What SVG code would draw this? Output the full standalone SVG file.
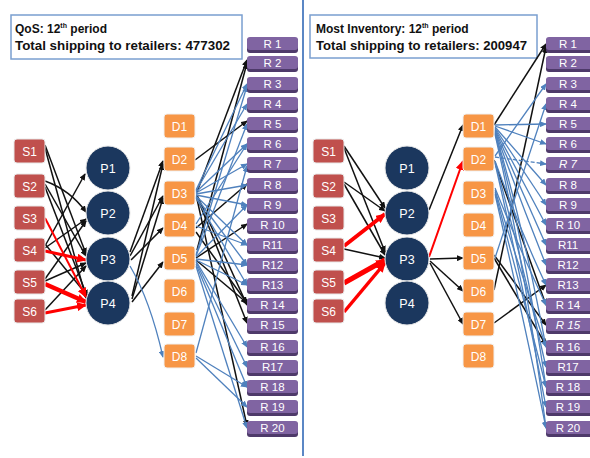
<svg xmlns="http://www.w3.org/2000/svg" width="590" height="458" viewBox="0 0 590 458">
<defs>
<style>
.hdr{fill:#fff;stroke:#7a9fd0;stroke-width:1.5}
.ht{font-family:"Liberation Sans",Arial,sans-serif;font-weight:bold;font-size:12px;fill:#111}
.s rect{fill:#c0504d;stroke:#e8e8e8;stroke-width:1}
.p circle{fill:#1b375e;stroke:#e8e8e8;stroke-width:1}
.d rect{fill:#f79646;stroke:#f0f0f0;stroke-width:1}
.r .sh{fill:#4e3a6a}
.r .bx{fill:#8064a2}
.nt{font-family:"Liberation Sans",Arial,sans-serif;font-size:12px;fill:#fff;text-anchor:middle}
.rt{font-family:"Liberation Sans",Arial,sans-serif;font-size:11.5px;fill:#fff;text-anchor:middle}
.pt{font-family:"Liberation Sans",Arial,sans-serif;font-size:12.5px;fill:#fff;text-anchor:middle}
.k{stroke:#111;stroke-width:1.5;fill:none;marker-end:url(#ak)}
.b{stroke:#4f81bd;stroke-width:1.3;fill:none;marker-end:url(#ab)}
.rd{stroke:#f00;fill:none;marker-end:url(#ar)}
</style>
<marker id="ak" markerUnits="userSpaceOnUse" markerWidth="7" markerHeight="6" refX="6" refY="3" orient="auto"><path d="M0,0 L7,3 L0,6 z" fill="#111"/></marker>
<marker id="ab" markerUnits="userSpaceOnUse" markerWidth="7" markerHeight="6" refX="6" refY="3" orient="auto"><path d="M0,0 L7,3 L0,6 z" fill="#4f81bd"/></marker>
<marker id="ar" markerUnits="userSpaceOnUse" markerWidth="10" markerHeight="9" refX="9" refY="4.5" orient="auto"><path d="M0,0 L10,4.5 L0,9 z" fill="#f00"/></marker>
</defs>
<rect width="590" height="458" fill="#fff"/>
<line x1="303" y1="0" x2="303" y2="456" stroke="#5b87c5" stroke-width="2"/>

<g id="header-left">
<rect class="hdr" x="11" y="15" width="231" height="44"/>
<text class="ht" x="15" y="33">QoS: 12<tspan font-size="7" dy="-5">th</tspan><tspan dy="5"> period</tspan></text>
<text class="ht" x="15" y="50" textLength="215" lengthAdjust="spacingAndGlyphs">Total shipping to retailers: 477302</text>
</g>
<g id="header-right">
<rect class="hdr" x="310" y="15" width="227" height="43"/>
<text class="ht" x="316" y="33">Most Inventory: 12<tspan font-size="7" dy="-5">th</tspan><tspan dy="5"> period</tspan></text>
<text class="ht" x="316" y="50" textLength="211" lengthAdjust="spacingAndGlyphs">Total shipping to retailers: 200947</text>
</g>

<g id="connectors">
<!-- left S->P -->
<line class="k" x1="45" y1="145" x2="86" y2="254"/>
<line class="k" x1="45" y1="148" x2="86" y2="298"/>
<path class="k" d="M45,181 Q70,190 86,212"/>
<line class="k" x1="45" y1="184" x2="86" y2="256"/>
<line class="k" x1="45" y1="187" x2="87" y2="296"/>
<line class="k" x1="45" y1="246" x2="85" y2="174"/>
<line class="k" x1="45" y1="248" x2="86" y2="219"/>
<line class="k" x1="45" y1="279" x2="86" y2="221"/>
<line class="k" x1="45" y1="281" x2="86" y2="263"/>
<line class="k" x1="45" y1="310" x2="86" y2="266"/>
<line class="k" x1="45" y1="244" x2="86" y2="294"/>
<line class="rd" stroke-width="2" x1="45" y1="218" x2="86" y2="297"/>
<line class="rd" stroke-width="3" x1="45" y1="251" x2="86" y2="260"/>
<line class="rd" stroke-width="4.5" x1="45" y1="284" x2="86" y2="302"/>
<line class="rd" stroke-width="3" x1="45" y1="313" x2="86" y2="305"/>
<!-- left P->D -->
<line class="k" x1="130" y1="252" x2="163" y2="161"/>
<line class="k" x1="132" y1="296" x2="163" y2="164"/>
<line class="k" x1="130" y1="256" x2="163" y2="196"/>
<line class="k" x1="132" y1="299" x2="163" y2="198"/>
<line class="k" x1="131" y1="260" x2="163" y2="228"/>
<line class="k" x1="132" y1="302" x2="163" y2="262"/>
<path class="b" d="M130,266 Q150,300 163,357"/>
<!-- left D->R black -->
<line class="k" x1="195" y1="160" x2="247" y2="121"/>
<line class="k" x1="197" y1="192" x2="247" y2="60"/>
<line class="k" x1="197" y1="195" x2="247" y2="305"/>
<line class="k" x1="197" y1="197" x2="247" y2="323"/>
<line class="k" x1="197" y1="199" x2="247" y2="426"/>
<line class="k" x1="196" y1="228" x2="247" y2="184"/>
<line class="k" x1="196" y1="258" x2="247" y2="224"/>
<line class="k" x1="196" y1="260" x2="247" y2="303"/>
<line class="k" x1="197" y1="250" x2="247" y2="63"/>
<line class="k" x1="196" y1="232" x2="247" y2="303"/>
<!-- left D->R blue -->
<line class="b" x1="196" y1="190" x2="247" y2="84"/>
<line class="b" x1="196" y1="191" x2="247" y2="104"/>
<line class="b" x1="196" y1="192" x2="247" y2="144"/>
<line class="b" x1="196" y1="193" x2="247" y2="164"/>
<line class="b" x1="196" y1="194" x2="247" y2="185"/>
<line class="b" x1="196" y1="195" x2="247" y2="205"/>
<line class="b" x1="196" y1="196" x2="247" y2="245"/>
<line class="b" x1="196" y1="197" x2="247" y2="265"/>
<line class="b" x1="196" y1="198" x2="247" y2="285"/>
<line class="b" x1="196" y1="224" x2="247" y2="144"/>
<line class="b" x1="196" y1="226" x2="247" y2="245"/>
<line class="b" x1="196" y1="255" x2="247" y2="86"/>
<line class="b" x1="196" y1="256" x2="247" y2="124"/>
<line class="b" x1="196" y1="257" x2="247" y2="205"/>
<line class="b" x1="196" y1="259" x2="247" y2="265"/>
<line class="b" x1="196" y1="260" x2="247" y2="285"/>
<line class="b" x1="196" y1="261" x2="247" y2="347"/>
<line class="b" x1="196" y1="262" x2="247" y2="367"/>
<line class="b" x1="196" y1="264" x2="247" y2="387"/>
<line class="b" x1="196" y1="266" x2="247" y2="428"/>
<line class="b" x1="196" y1="353" x2="247" y2="166"/>
<line class="b" x1="196" y1="356" x2="247" y2="387"/>
<line class="b" x1="196" y1="358" x2="247" y2="407"/>
<!-- right S->P -->
<line class="k" x1="344" y1="146" x2="385" y2="208"/>
<line class="k" x1="344" y1="148" x2="385" y2="252"/>
<line class="k" x1="344" y1="182" x2="385" y2="211"/>
<line class="k" x1="344" y1="184" x2="385" y2="255"/>
<line class="k" x1="344" y1="249" x2="385" y2="258"/>
<line class="rd" stroke-width="4" x1="344" y1="246" x2="385" y2="214"/>
<line class="rd" stroke-width="5" x1="344" y1="283" x2="385" y2="260"/>
<line class="rd" stroke-width="3.5" x1="344" y1="312" x2="385" y2="263"/>
<!-- right P->D -->
<line class="k" stroke-width="2" x1="429" y1="210" x2="463" y2="125"/>
<line class="rd" stroke-width="2" x1="429" y1="257" x2="463" y2="161"/>
<line class="k" stroke-width="2.5" x1="430" y1="259" x2="463" y2="258"/>
<line class="k" x1="430" y1="261" x2="463" y2="291"/>
<line class="k" x1="430" y1="263" x2="463" y2="324"/>
<!-- right D->R black -->
<line class="k" x1="494" y1="125" x2="546" y2="44"/>
<line class="k" stroke-width="2" x1="494" y1="160" x2="546" y2="305"/>
<line class="k" stroke-width="2.2" x1="494" y1="255" x2="546" y2="325"/>
<line class="k" x1="494" y1="258" x2="546" y2="345"/>
<line class="k" x1="494" y1="290" x2="546" y2="47"/>
<line class="k" x1="494" y1="323" x2="546" y2="285"/>
<!-- right D->R blue -->
<line class="b" x1="495" y1="125" x2="546" y2="124"/>
<line class="b" x1="495" y1="126" x2="546" y2="144"/>
<line class="b" x1="495" y1="127" x2="546" y2="185"/>
<line class="b" x1="495" y1="128" x2="546" y2="205"/>
<line class="b" x1="495" y1="129" x2="546" y2="225"/>
<line class="b" x1="495" y1="130" x2="546" y2="245"/>
<path class="b" d="M495,131 Q520,200 546,265"/>
<path class="b" d="M495,132 Q522,220 546,347"/>
<path class="b" d="M495,133 Q524,240 546,387"/>
<path class="b" d="M495,134 Q526,270 546,428"/>
<line class="b" stroke-dasharray="4,2" x1="495" y1="157" x2="546" y2="164"/>
<line class="b" x1="495" y1="156" x2="546" y2="84"/>
<path class="b" d="M495,161 Q520,230 546,285"/>
<path class="b" d="M495,162 Q522,260 546,367"/>
<path class="b" d="M495,163 Q524,290 546,407"/>
<path class="b" d="M495,188 Q520,250 546,305"/>
<path class="b" d="M495,190 Q520,270 546,347"/>
<path class="b" d="M495,192 Q524,300 546,387"/>
<path class="b" d="M495,194 Q526,330 546,428"/>
<line class="b" x1="495" y1="258" x2="546" y2="104"/>
</g>

<g id="S1-L" class="s"><rect x="14" y="139" width="31" height="24" rx="3"/><text class="nt" x="29.5" y="155.5">S1</text></g>
<g id="S2-L" class="s"><rect x="14" y="174" width="31" height="24" rx="3"/><text class="nt" x="29.5" y="190.5">S2</text></g>
<g id="S3-L" class="s"><rect x="14" y="206" width="31" height="24" rx="3"/><text class="nt" x="29.5" y="222.5">S3</text></g>
<g id="S4-L" class="s"><rect x="14" y="238" width="31" height="24" rx="3"/><text class="nt" x="29.5" y="254.5">S4</text></g>
<g id="S5-L" class="s"><rect x="14" y="270" width="31" height="24" rx="3"/><text class="nt" x="29.5" y="286.5">S5</text></g>
<g id="S6-L" class="s"><rect x="14" y="299" width="31" height="24" rx="3"/><text class="nt" x="29.5" y="315.5">S6</text></g>

<g id="P1-L" class="p"><circle cx="108" cy="168" r="22"/><text class="pt" x="108" y="172.5">P1</text></g>
<g id="P2-L" class="p"><circle cx="108" cy="213" r="22"/><text class="pt" x="108" y="217.5">P2</text></g>
<g id="P3-L" class="p"><circle cx="108" cy="259" r="22"/><text class="pt" x="108" y="263.5">P3</text></g>
<g id="P4-L" class="p"><circle cx="108" cy="303" r="22"/><text class="pt" x="108" y="307.5">P4</text></g>

<g id="D1-L" class="d"><rect x="164" y="114" width="31" height="24" rx="3"/><text class="nt" x="179.5" y="130.5">D1</text></g>
<g id="D2-L" class="d"><rect x="164" y="147" width="31" height="24" rx="3"/><text class="nt" x="179.5" y="163.5">D2</text></g>
<g id="D3-L" class="d"><rect x="164" y="181" width="31" height="24" rx="3"/><text class="nt" x="179.5" y="197.5">D3</text></g>
<g id="D4-L" class="d"><rect x="164" y="213" width="31" height="24" rx="3"/><text class="nt" x="179.5" y="229.5">D4</text></g>
<g id="D5-L" class="d"><rect x="164" y="246" width="31" height="24" rx="3"/><text class="nt" x="179.5" y="262.5">D5</text></g>
<g id="D6-L" class="d"><rect x="164" y="279" width="31" height="24" rx="3"/><text class="nt" x="179.5" y="295.5">D6</text></g>
<g id="D7-L" class="d"><rect x="164" y="312" width="31" height="24" rx="3"/><text class="nt" x="179.5" y="328.5">D7</text></g>
<g id="D8-L" class="d"><rect x="164" y="344" width="31" height="24" rx="3"/><text class="nt" x="179.5" y="360.5">D8</text></g>

<g id="R1-L" class="r"><rect class="sh" x="247" y="38" width="51" height="15" rx="3"/><rect class="bx" x="247" y="37" width="51" height="13" rx="3"/><text class="rt" x="272.5" y="48">R 1</text></g>
<g id="R2-L" class="r"><rect class="sh" x="247" y="57" width="51" height="15" rx="3"/><rect class="bx" x="247" y="56" width="51" height="13" rx="3"/><text class="rt" x="272.5" y="67">R 2</text></g>
<g id="R3-L" class="r"><rect class="sh" x="247" y="78" width="51" height="15" rx="3"/><rect class="bx" x="247" y="77" width="51" height="13" rx="3"/><text class="rt" x="272.5" y="88">R 3</text></g>
<g id="R4-L" class="r"><rect class="sh" x="247" y="98" width="51" height="15" rx="3"/><rect class="bx" x="247" y="97" width="51" height="13" rx="3"/><text class="rt" x="272.5" y="108">R 4</text></g>
<g id="R5-L" class="r"><rect class="sh" x="247" y="118" width="51" height="15" rx="3"/><rect class="bx" x="247" y="117" width="51" height="13" rx="3"/><text class="rt" x="272.5" y="128">R 5</text></g>
<g id="R6-L" class="r"><rect class="sh" x="247" y="138" width="51" height="15" rx="3"/><rect class="bx" x="247" y="137" width="51" height="13" rx="3"/><text class="rt" x="272.5" y="148">R 6</text></g>
<g id="R7-L" class="r"><rect class="sh" x="247" y="158" width="51" height="15" rx="3"/><rect class="bx" x="247" y="157" width="51" height="13" rx="3"/><text class="rt" x="272.5" y="168">R 7</text></g>
<g id="R8-L" class="r"><rect class="sh" x="247" y="179" width="51" height="15" rx="3"/><rect class="bx" x="247" y="178" width="51" height="13" rx="3"/><text class="rt" x="272.5" y="189">R 8</text></g>
<g id="R9-L" class="r"><rect class="sh" x="247" y="199" width="51" height="15" rx="3"/><rect class="bx" x="247" y="198" width="51" height="13" rx="3"/><text class="rt" x="272.5" y="209">R 9</text></g>
<g id="R10-L" class="r"><rect class="sh" x="247" y="219" width="51" height="15" rx="3"/><rect class="bx" x="247" y="218" width="51" height="13" rx="3"/><text class="rt" x="272.5" y="229">R 10</text></g>
<g id="R11-L" class="r"><rect class="sh" x="247" y="239" width="51" height="15" rx="3"/><rect class="bx" x="247" y="238" width="51" height="13" rx="3"/><text class="rt" x="272.5" y="249">R11</text></g>
<g id="R12-L" class="r"><rect class="sh" x="247" y="259" width="51" height="15" rx="3"/><rect class="bx" x="247" y="258" width="51" height="13" rx="3"/><text class="rt" x="272.5" y="269">R12</text></g>
<g id="R13-L" class="r"><rect class="sh" x="247" y="279" width="51" height="15" rx="3"/><rect class="bx" x="247" y="278" width="51" height="13" rx="3"/><text class="rt" x="272.5" y="289">R13</text></g>
<g id="R14-L" class="r"><rect class="sh" x="247" y="299" width="51" height="15" rx="3"/><rect class="bx" x="247" y="298" width="51" height="13" rx="3"/><text class="rt" x="272.5" y="309">R 14</text></g>
<g id="R15-L" class="r"><rect class="sh" x="247" y="319" width="51" height="15" rx="3"/><rect class="bx" x="247" y="318" width="51" height="13" rx="3"/><text class="rt" x="272.5" y="329">R 15</text></g>
<g id="R16-L" class="r"><rect class="sh" x="247" y="341" width="51" height="15" rx="3"/><rect class="bx" x="247" y="340" width="51" height="13" rx="3"/><text class="rt" x="272.5" y="351">R 16</text></g>
<g id="R17-L" class="r"><rect class="sh" x="247" y="361" width="51" height="15" rx="3"/><rect class="bx" x="247" y="360" width="51" height="13" rx="3"/><text class="rt" x="272.5" y="371">R17</text></g>
<g id="R18-L" class="r"><rect class="sh" x="247" y="381" width="51" height="15" rx="3"/><rect class="bx" x="247" y="380" width="51" height="13" rx="3"/><text class="rt" x="272.5" y="391">R 18</text></g>
<g id="R19-L" class="r"><rect class="sh" x="247" y="401" width="51" height="15" rx="3"/><rect class="bx" x="247" y="400" width="51" height="13" rx="3"/><text class="rt" x="272.5" y="411">R 19</text></g>
<g id="R20-L" class="r"><rect class="sh" x="247" y="422" width="51" height="15" rx="3"/><rect class="bx" x="247" y="421" width="51" height="13" rx="3"/><text class="rt" x="272.5" y="432">R 20</text></g>

<g id="S1-R" class="s"><rect x="313" y="139" width="31" height="24" rx="3"/><text class="nt" x="328.5" y="155.5">S1</text></g>
<g id="S2-R" class="s"><rect x="313" y="174" width="31" height="24" rx="3"/><text class="nt" x="328.5" y="190.5">S2</text></g>
<g id="S3-R" class="s"><rect x="313" y="206" width="31" height="24" rx="3"/><text class="nt" x="328.5" y="222.5">S3</text></g>
<g id="S4-R" class="s"><rect x="313" y="238" width="31" height="24" rx="3"/><text class="nt" x="328.5" y="254.5">S4</text></g>
<g id="S5-R" class="s"><rect x="313" y="270" width="31" height="24" rx="3"/><text class="nt" x="328.5" y="286.5">S5</text></g>
<g id="S6-R" class="s"><rect x="313" y="299" width="31" height="24" rx="3"/><text class="nt" x="328.5" y="315.5">S6</text></g>

<g id="P1-R" class="p"><circle cx="407" cy="168" r="22"/><text class="pt" x="407" y="172.5">P1</text></g>
<g id="P2-R" class="p"><circle cx="407" cy="213" r="22"/><text class="pt" x="407" y="217.5">P2</text></g>
<g id="P3-R" class="p"><circle cx="407" cy="259" r="22"/><text class="pt" x="407" y="263.5">P3</text></g>
<g id="P4-R" class="p"><circle cx="407" cy="303" r="22"/><text class="pt" x="407" y="307.5">P4</text></g>

<g id="D1-R" class="d"><rect x="463" y="114" width="31" height="24" rx="3"/><text class="nt" x="478.5" y="130.5">D1</text></g>
<g id="D2-R" class="d"><rect x="463" y="147" width="31" height="24" rx="3"/><text class="nt" x="478.5" y="163.5">D2</text></g>
<g id="D3-R" class="d"><rect x="463" y="181" width="31" height="24" rx="3"/><text class="nt" x="478.5" y="197.5">D3</text></g>
<g id="D4-R" class="d"><rect x="463" y="213" width="31" height="24" rx="3"/><text class="nt" x="478.5" y="229.5">D4</text></g>
<g id="D5-R" class="d"><rect x="463" y="246" width="31" height="24" rx="3"/><text class="nt" x="478.5" y="262.5">D5</text></g>
<g id="D6-R" class="d"><rect x="463" y="279" width="31" height="24" rx="3"/><text class="nt" x="478.5" y="295.5">D6</text></g>
<g id="D7-R" class="d"><rect x="463" y="312" width="31" height="24" rx="3"/><text class="nt" x="478.5" y="328.5">D7</text></g>
<g id="D8-R" class="d"><rect x="463" y="344" width="31" height="24" rx="3"/><text class="nt" x="478.5" y="360.5">D8</text></g>

<g id="R1-R" class="r"><rect class="sh" x="546" y="38" width="48" height="15" rx="3"/><rect class="bx" x="546" y="37" width="48" height="13" rx="3"/><text class="rt" x="568" y="48">R 1</text></g>
<g id="R2-R" class="r"><rect class="sh" x="546" y="57" width="48" height="15" rx="3"/><rect class="bx" x="546" y="56" width="48" height="13" rx="3"/><text class="rt" x="568" y="67">R 2</text></g>
<g id="R3-R" class="r"><rect class="sh" x="546" y="78" width="48" height="15" rx="3"/><rect class="bx" x="546" y="77" width="48" height="13" rx="3"/><text class="rt" x="568" y="88">R 3</text></g>
<g id="R4-R" class="r"><rect class="sh" x="546" y="98" width="48" height="15" rx="3"/><rect class="bx" x="546" y="97" width="48" height="13" rx="3"/><text class="rt" x="568" y="108">R 4</text></g>
<g id="R5-R" class="r"><rect class="sh" x="546" y="118" width="48" height="15" rx="3"/><rect class="bx" x="546" y="117" width="48" height="13" rx="3"/><text class="rt" x="568" y="128">R 5</text></g>
<g id="R6-R" class="r"><rect class="sh" x="546" y="138" width="48" height="15" rx="3"/><rect class="bx" x="546" y="137" width="48" height="13" rx="3"/><text class="rt" x="568" y="148">R 6</text></g>
<g id="R7-R" class="r"><rect class="sh" x="546" y="158" width="48" height="15" rx="3"/><rect class="bx" x="546" y="157" width="48" height="13" rx="3"/><text class="rt" x="568" y="168" font-style="italic">R 7</text></g>
<g id="R8-R" class="r"><rect class="sh" x="546" y="179" width="48" height="15" rx="3"/><rect class="bx" x="546" y="178" width="48" height="13" rx="3"/><text class="rt" x="568" y="189">R 8</text></g>
<g id="R9-R" class="r"><rect class="sh" x="546" y="199" width="48" height="15" rx="3"/><rect class="bx" x="546" y="198" width="48" height="13" rx="3"/><text class="rt" x="568" y="209">R 9</text></g>
<g id="R10-R" class="r"><rect class="sh" x="546" y="219" width="48" height="15" rx="3"/><rect class="bx" x="546" y="218" width="48" height="13" rx="3"/><text class="rt" x="568" y="229">R 10</text></g>
<g id="R11-R" class="r"><rect class="sh" x="546" y="239" width="48" height="15" rx="3"/><rect class="bx" x="546" y="238" width="48" height="13" rx="3"/><text class="rt" x="568" y="249">R11</text></g>
<g id="R12-R" class="r"><rect class="sh" x="546" y="259" width="48" height="15" rx="3"/><rect class="bx" x="546" y="258" width="48" height="13" rx="3"/><text class="rt" x="568" y="269">R12</text></g>
<g id="R13-R" class="r"><rect class="sh" x="546" y="279" width="48" height="15" rx="3"/><rect class="bx" x="546" y="278" width="48" height="13" rx="3"/><text class="rt" x="568" y="289">R13</text></g>
<g id="R14-R" class="r"><rect class="sh" x="546" y="299" width="48" height="15" rx="3"/><rect class="bx" x="546" y="298" width="48" height="13" rx="3"/><text class="rt" x="568" y="309">R 14</text></g>
<g id="R15-R" class="r"><rect class="sh" x="546" y="319" width="48" height="15" rx="3"/><rect class="bx" x="546" y="318" width="48" height="13" rx="3"/><text class="rt" x="568" y="329" font-style="italic">R 15</text></g>
<g id="R16-R" class="r"><rect class="sh" x="546" y="341" width="48" height="15" rx="3"/><rect class="bx" x="546" y="340" width="48" height="13" rx="3"/><text class="rt" x="568" y="351">R 16</text></g>
<g id="R17-R" class="r"><rect class="sh" x="546" y="361" width="48" height="15" rx="3"/><rect class="bx" x="546" y="360" width="48" height="13" rx="3"/><text class="rt" x="568" y="371">R17</text></g>
<g id="R18-R" class="r"><rect class="sh" x="546" y="381" width="48" height="15" rx="3"/><rect class="bx" x="546" y="380" width="48" height="13" rx="3"/><text class="rt" x="568" y="391">R 18</text></g>
<g id="R19-R" class="r"><rect class="sh" x="546" y="401" width="48" height="15" rx="3"/><rect class="bx" x="546" y="400" width="48" height="13" rx="3"/><text class="rt" x="568" y="411">R 19</text></g>
<g id="R20-R" class="r"><rect class="sh" x="546" y="422" width="48" height="15" rx="3"/><rect class="bx" x="546" y="421" width="48" height="13" rx="3"/><text class="rt" x="568" y="432">R 20</text></g>
</svg>
